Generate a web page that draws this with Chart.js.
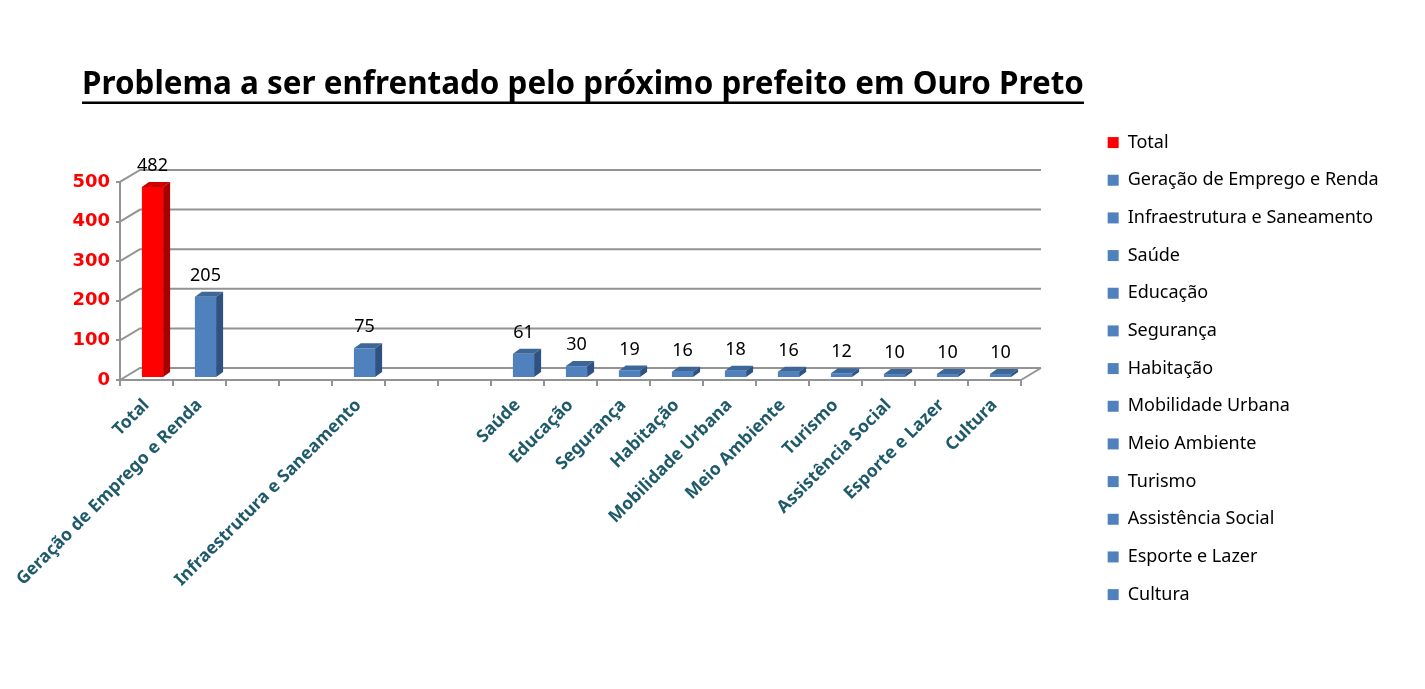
<!DOCTYPE html>
<html>
<head>
<meta charset="utf-8">
<script src="https://cdn.jsdelivr.net/npm/chart.js@4.4.1/dist/chart.umd.min.js"></script>
<style>
html, body { margin: 0; padding: 0; background: #fff; }
#wrap { width: 1425px; height: 689px; }
</style>
</head>
<body>
<div id="wrap"><canvas id="grafico"></canvas></div>
<script>
var titulo = 'Problema a ser enfrentado pelo próximo prefeito em Ouro Preto';
var categorias = ['Total', 'Geração de Emprego e Renda', '', '', 'Infraestrutura e Saneamento', '', '',
    'Saúde', 'Educação', 'Segurança', 'Habitação', 'Mobilidade Urbana', 'Meio Ambiente',
    'Turismo', 'Assistência Social', 'Esporte e Lazer', 'Cultura'];
var respostas = [482, 205, null, null, 75, null, null, 61, 30, 19, 16, 18, 16, 12, 10, 10, 10];
var ticks_y = [0, 100, 200, 300, 400, 500];

var cor_frente = function(i){ return i === 0 ? '#ff0000' : '#4f81bd'; };
var cor_topo = function(i){ return i === 0 ? '#cc0000' : '#3d6699'; };
var cor_lado = function(i){ return i === 0 ? '#a80000' : '#2f5282'; };
var cinza = '#939393';
var fonte_titulo = 'bold 31.4px "Noto Sans"';

Chart.defaults.font.family = '"Noto Sans", sans-serif';

// paredes do grafico 3d (fundo, lado esquerdo e piso)
var parede = {
    id: 'parede',
    beforeDatasetsDraw: function(chart){
        var ctx = chart.ctx, a = chart.chartArea, sy = chart.scales.y;
        ctx.save();
        ctx.strokeStyle = cinza;
        ctx.lineWidth = 2;
        ticks_y.forEach(function(v){
            var py = sy.getPixelForValue(v);
            ctx.beginPath();
            ctx.moveTo(a.left, py);
            ctx.lineTo(a.left + 20, py - 12);
            ctx.lineTo(a.right + 20, py - 12);
            ctx.stroke();
        });
        ctx.beginPath();
        ctx.moveTo(a.right, a.bottom);
        ctx.lineTo(a.right + 20, a.bottom - 12);
        ctx.stroke();
        ctx.restore();
        ctx.save();
        ctx.translate(6, -2);
    },
    afterDatasetsDraw: function(chart){
        var ctx = chart.ctx;
        var meta = chart.getDatasetMeta(0);
        meta.data.forEach(function(bar, i){
            if (respostas[i] === null) return;
            var p = bar.getProps(['x', 'y', 'base', 'width'], true);
            var l = p.x - p.width / 2, r = p.x + p.width / 2;
            ctx.fillStyle = cor_topo(i);
            ctx.beginPath();
            ctx.moveTo(l, p.y); ctx.lineTo(r, p.y); ctx.lineTo(r + 7, p.y - 5); ctx.lineTo(l + 7, p.y - 5);
            ctx.closePath(); ctx.fill();
            ctx.fillStyle = cor_lado(i);
            ctx.beginPath();
            ctx.moveTo(r, p.y); ctx.lineTo(r + 7, p.y - 5); ctx.lineTo(r + 7, p.base - 5); ctx.lineTo(r, p.base);
            ctx.closePath(); ctx.fill();
            ctx.fillStyle = '#000';
            ctx.font = '18px "Noto Sans"';
            ctx.textAlign = 'center';
            ctx.textBaseline = 'middle';
            ctx.fillText(String(respostas[i]), p.x, p.y - 21);
        });
        ctx.restore();
    }
};

// titulo centrado em 583 e legenda sem corte a direita
var ajustes = {
    id: 'ajustes',
    afterLayout: function(chart){
        chart.titleBlock.left = 33;
        chart.titleBlock.right = 1133;
        chart.legend.right = chart.width;
        chart.legend.width = chart.legend.right - chart.legend.left;
    },
    afterDraw: function(chart){
        var ctx = chart.ctx, t = chart.titleBlock;
        ctx.save();
        ctx.font = fonte_titulo;
        var w = ctx.measureText(titulo).width;
        var cx = (t.left + t.right) / 2;
        ctx.fillStyle = '#000';
        ctx.fillRect(cx - w / 2, 101.5, w, 2.5);
        ctx.restore();
    }
};

var ctx = document.getElementById('grafico').getContext('2d');
window.grafico = new Chart(ctx, {
    type: 'bar',
    data: {
        labels: categorias,
        datasets: [{
            label: 'Respostas',
            data: respostas,
            backgroundColor: categorias.map(function(c, i){ return cor_frente(i); }),
            borderWidth: 0,
            barPercentage: 0.8,
            categoryPercentage: 0.5,
            clip: false
        }]
    },
    options: {
        responsive: true,
        maintainAspectRatio: false,
        animation: false,
        layout: { padding: { left: 0, right: 107, top: 0, bottom: 0 } },
        plugins: {
            title: {
                display: true,
                text: titulo,
                fullSize: false,
                color: '#000',
                font: { size: 31.4, weight: 'bold' },
                padding: { top: 66, bottom: 78.3 }
            },
            legend: {
                position: 'right',
                align: 'start',
                maxWidth: 230,
                onClick: function(){},
                title: { display: true, text: '', font: { size: 12 }, padding: { top: 99.5, bottom: 0 } },
                labels: {
                    boxWidth: 11,
                    boxHeight: 11,
                    padding: 19.67,
                    color: '#000',
                    font: { size: 18 },
                    generateLabels: function(chart){
                        var itens = [];
                        categorias.forEach(function(c, i){
                            if (c === '') return;
                            itens.push({ text: c, fillStyle: cor_frente(i), strokeStyle: cor_frente(i), fontColor: '#000', lineWidth: 0, hidden: false, index: i });
                        });
                        return itens;
                    }
                }
            },
            tooltip: { enabled: false }
        },
        scales: {
            x: {
                grid: { display: true, drawOnChartArea: false, drawTicks: true, tickLength: 6, color: cinza, lineWidth: 2 },
                border: { display: true, color: cinza, width: 2 },
                ticks: {
                    autoSkip: false,
                    minRotation: 45,
                    maxRotation: 45,
                    padding: 9,
                    color: '#1f5a6a',
                    font: { size: 17.5, weight: 'bold' }
                },
                afterFit: function(s){ s.height = 309; }
            },
            y: {
                min: 0,
                max: 500,
                grid: { display: true, drawOnChartArea: false, drawTicks: true, tickLength: 4, color: cinza, lineWidth: 2 },
                border: { display: true, color: cinza, width: 2 },
                ticks: {
                    stepSize: 100,
                    padding: 6,
                    color: '#ff0000',
                    font: { family: '"DejaVu Sans"', size: 18, weight: 'bold' }
                },
                afterFit: function(s){ s.width = 120; }
            },
            y2: {
                position: 'right',
                grid: { display: false },
                border: { display: false },
                ticks: { display: false },
                afterFit: function(s){ s.width = 67; }
            }
        }
    },
    plugins: [parede, ajustes]
});
</script>
</body>
</html>
